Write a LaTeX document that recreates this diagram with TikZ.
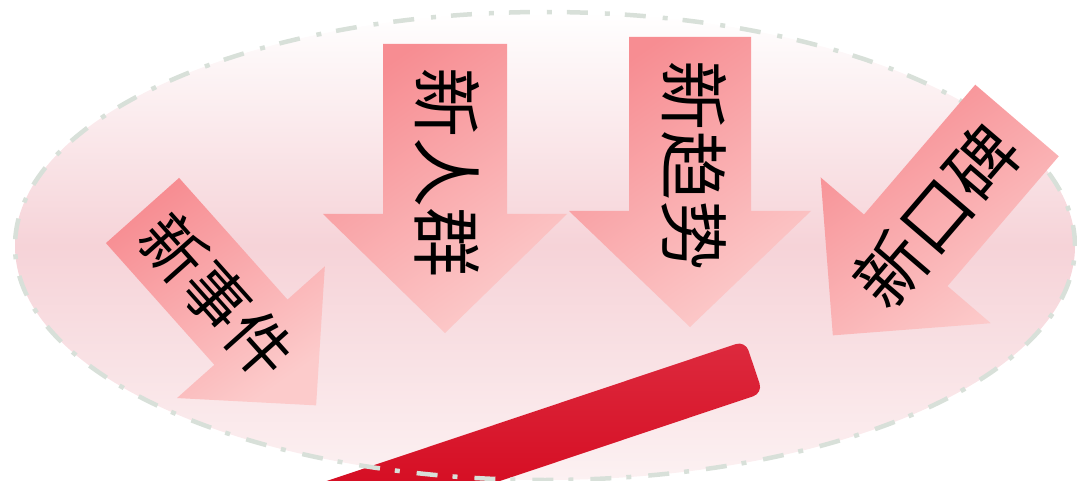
\documentclass[tikz,border=0pt]{standalone}
\usepackage{fontspec}
\newfontfamily\cjk{Noto Sans CJK SC}
\usetikzlibrary{calc}
\definecolor{arrdark}{HTML}{F78D92}
\definecolor{arrlight}{HTML}{FCCBCB}
\definecolor{elmid}{HTML}{F6D3D8}
\definecolor{elbot}{HTML}{FCF1F2}
\definecolor{elborder}{HTML}{D8E0D9}
\definecolor{bartop}{HTML}{DD2A3E}
\definecolor{barbot}{HTML}{D20016}
\tikzset{
  arrowshade/.style={top color=arrdark, bottom color=arrlight, shading angle=35},
  arrtext/.style={font=\cjk\fontsize{70}{70}\selectfont, inner sep=0pt, text=black},
  ellborder/.style={draw=elborder, line width=4.5pt, dash pattern=on 21pt off 15pt on 5pt off 17pt},
}
% #1 name, #2 tail centre, #3 angle, #4 length, #5 shaft half width, #6 head half width, #7 head length
\newcommand{\blockarrow}[7]{%
  \coordinate (#1-t) at (#2);
  \shade[arrowshade]
    ($(#1-t)+(#3+90:#5)$) --
    ($(#1-t)+(#3:#4-#7)+(#3+90:#5)$) --
    ($(#1-t)+(#3:#4-#7)+(#3+90:#6)$) --
    ($(#1-t)+(#3:#4)$) --
    ($(#1-t)+(#3:#4-#7)+(#3-90:#6)$) --
    ($(#1-t)+(#3:#4-#7)+(#3-90:#5)$) --
    ($(#1-t)+(#3-90:#5)$) -- cycle;
}
\begin{document}
\begin{tikzpicture}[x=1pt,y=1pt]
\useasboundingbox (0,0) rectangle (1077,480);
\clip (0,0) rectangle (1077,480);
% ellipse background
\shade[top color=white, bottom color=elbot, middle color=elmid] (545,234) ellipse [x radius=530pt, y radius=234pt];
% red bar
\coordinate (barend) at (754,113);
\shade[top color=bartop, bottom color=barbot, rounded corners=10pt]
  ($(barend)+(108.5:27.5)$) -- ($(barend)+(-71.5:27.5)$) --
  ($(barend)+(198.5:520)+(-71.5:27.5)$) -- ($(barend)+(198.5:520)+(108.5:27.5)$) -- cycle;
% ellipse border
\path[ellborder] (545,234) ellipse [x radius=530pt, y radius=234pt];
% arrows
\blockarrow{a1}{445,436}{-90}{289}{62}{122}{119}
\blockarrow{a2}{690,443}{-90}{290}{61}{121}{116}
\blockarrow{a3}{142.5,269.5}{-48.3}{261}{49}{99}{98}
\blockarrow{a4}{1017,359.5}{229.4}{283}{55}{112}{112}
% texts
\node[arrtext, rotate=-90] (t1) at (447,307) {新人群};
\node[arrtext, rotate=-90] (t2) at (694,314) {新趋势};
\node[arrtext, font=\cjk\fontsize{64}{64}\selectfont, rotate=-48.3] (t3) at (217,184) {新事件};
\node[arrtext, rotate=49.4] (t4) at (936,264) {新口碑};
\end{tikzpicture}
\end{document}
